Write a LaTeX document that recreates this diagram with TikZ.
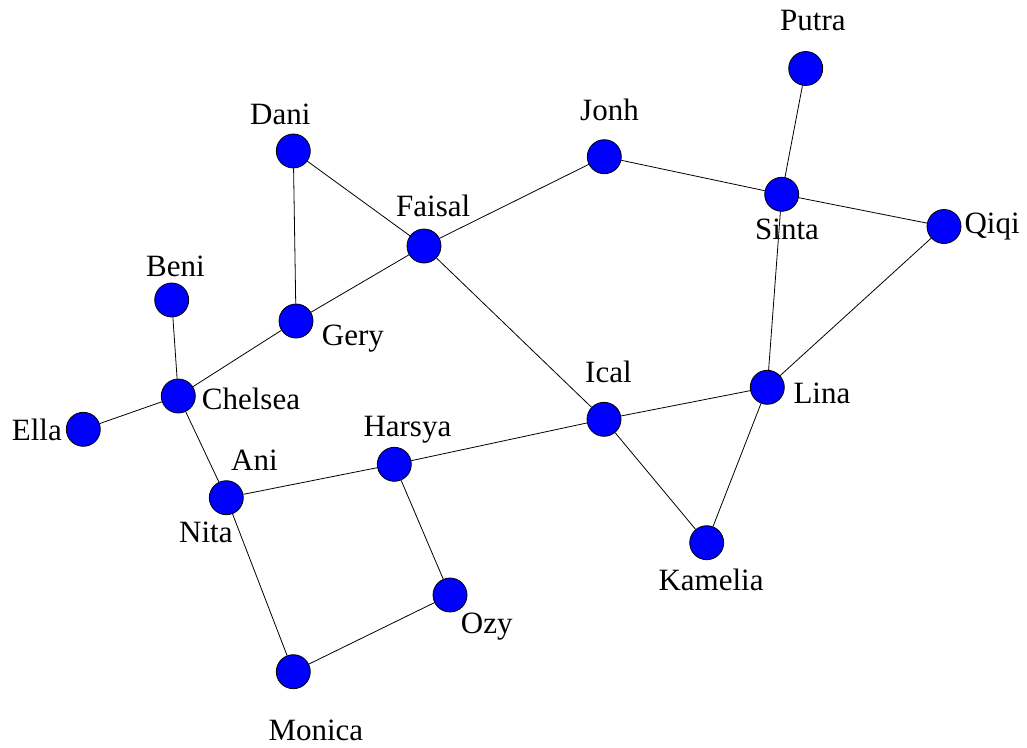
\documentclass[tikz,border=0pt]{standalone}
\usepackage{fontspec}
\setmainfont{Liberation Serif}
\begin{document}
\begin{tikzpicture}[x=1pt,y=-1pt,
  vtx/.style={circle,draw=black,fill={rgb,255:red,0;green,0;blue,255},minimum size=34pt,inner sep=0pt,line width=0.8pt},
  lbl/.style={anchor=base west,inner sep=0pt,font=\fontsize{31}{36}\selectfont},
  edge/.style={line width=0.8pt,draw=black}]
\useasboundingbox[fill=white] (0,0) rectangle (1027,747);
% vertices
\node[vtx] (putra) at (805.7,68.5) {};
\node[vtx] (jonh) at (604.3,156.7) {};
\node[vtx] (dani) at (293.3,151) {};
\node[vtx] (faisal) at (424,246) {};
\node[vtx] (sinta) at (781.7,194.3) {};
\node[vtx] (qiqi) at (944,226.5) {};
\node[vtx] (beni) at (171.7,300) {};
\node[vtx] (gery) at (296,321) {};
\node[vtx] (chelsea) at (178.3,396) {};
\node[vtx] (ella) at (83.3,429.3) {};
\node[vtx] (ical) at (604,419.3) {};
\node[vtx] (lina) at (767.3,387.3) {};
\node[vtx] (harsya) at (394.3,464.3) {};
\node[vtx] (ani) at (226.3,497.7) {};
\node[vtx] (kamelia) at (706.7,542.7) {};
\node[vtx] (ozy) at (450,595) {};
\node[vtx] (monica) at (293.3,671.7) {};
% labels
\node[lbl] (tputra) at (780,30.7) {Putra};
\node[lbl] (tjonh) at (580,120) {Jonh};
\node[lbl] (tdani) at (250,124.3) {Dani};
\node[lbl] (tfaisal) at (396,216.7) {Faisal};
\node[lbl] (tsinta) at (755,239.3) {Sinta};
\node[lbl] (tqiqi) at (964.3,233.3) {Qiqi};
\node[lbl] (tbeni) at (146,276) {Beni};
\node[lbl] (tgery) at (321.7,345) {Gery};
\node[lbl] (tchelsea) at (201.7,409) {Chelsea};
\node[lbl] (tella) at (11.7,440) {Ella};
\node[lbl] (tical) at (585,382.7) {Ical};
\node[lbl] (tlina) at (793.3,403.3) {Lina};
\node[lbl] (tharsya) at (363.3,436) {Harsya};
\node[lbl] (tani) at (231,470) {Ani};
\node[lbl] (tnita) at (179,542.7) {Nita};
\node[lbl] (tkamelia) at (658.3,590.7) {Kamelia};
\node[lbl] (tozy) at (460.7,633.3) {Ozy};
\node[lbl] (tmonica) at (268.3,740) {Monica};
% edges
\draw[edge] (putra) -- (sinta);
\draw[edge] (jonh) -- (sinta);
\draw[edge] (sinta) -- (qiqi);
\draw[edge] (sinta) -- (lina);
\draw[edge] (qiqi) -- (lina);
\draw[edge] (lina) -- (ical);
\draw[edge] (lina) -- (kamelia);
\draw[edge] (ical) -- (kamelia);
\draw[edge] (ical) -- (faisal);
\draw[edge] (ical) -- (harsya);
\draw[edge] (faisal) -- (jonh);
\draw[edge] (faisal) -- (dani);
\draw[edge] (faisal) -- (gery);
\draw[edge] (dani) -- (gery);
\draw[edge] (gery) -- (chelsea);
\draw[edge] (beni) -- (chelsea);
\draw[edge] (chelsea) -- (ella);
\draw[edge] (chelsea) -- (ani);
\draw[edge] (ani) -- (harsya);
\draw[edge] (ani) -- (monica);
\draw[edge] (harsya) -- (ozy);
\draw[edge] (ozy) -- (monica);
\end{tikzpicture}
\end{document}
